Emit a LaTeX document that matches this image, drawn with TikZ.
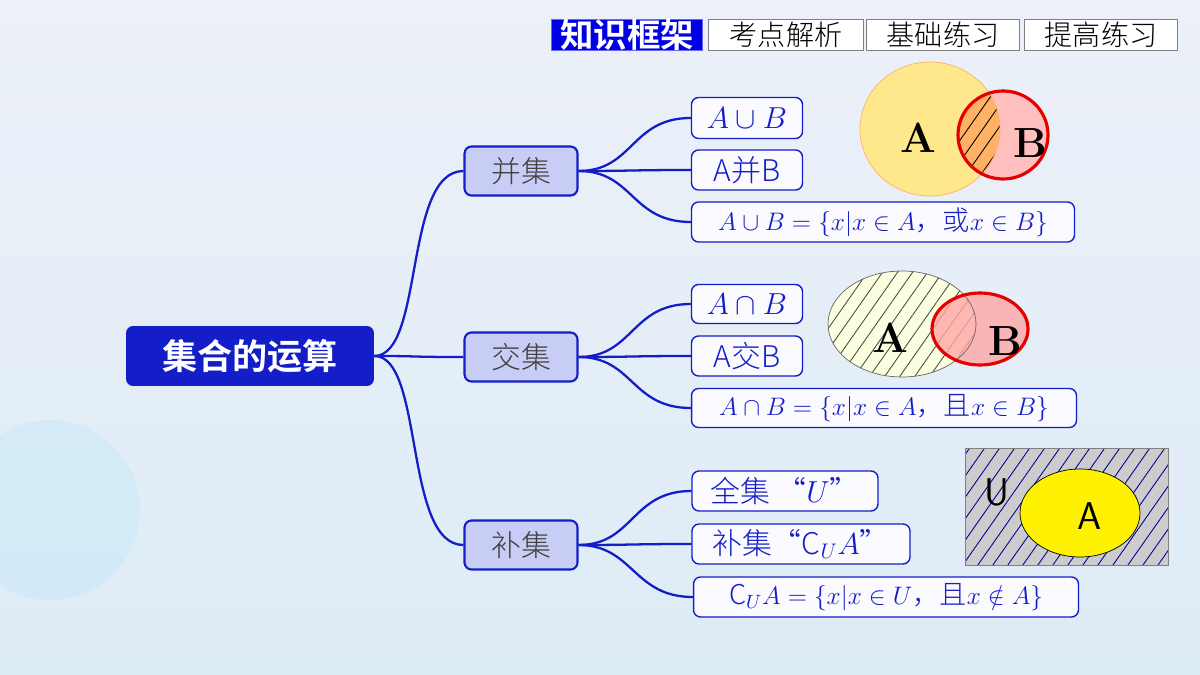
\documentclass[tikz,border=0pt]{standalone}
\usepackage{fontspec}
\newfontfamily\cjk{Noto Sans CJK SC}[UprightFont=* Light]
\usetikzlibrary{patterns.meta,calc}
\definecolor{nb}{RGB}{20,30,200}
\definecolor{nfill}{RGB}{200,205,245}
\definecolor{bgt}{RGB}{236,240,248}
\definecolor{bgb}{RGB}{222,236,246}
\begin{document}
\begin{tikzpicture}[x=0.02cm,y=-0.02cm,
 leaf/.style={draw=nb,rounded corners=4pt,fill=white!60!blue!5,text=nb,font=\cjk\fontsize{17}{17}\selectfont,inner sep=0pt,line width=0.8pt},
 fleaf/.style={leaf,font=\cjk\fontsize{15.5}{15.5}\selectfont},
 mid/.style={draw=nb,rounded corners=4pt,fill=nfill,text=black!75,font=\cjk\fontsize{17}{17}\selectfont,inner sep=0pt,line width=1.2pt},
 tab/.style={draw=gray,fill=white,font=\cjk\fontsize{16}{16}\selectfont,inner sep=0pt},
 con/.style={nb,line width=1.3pt},
 hatch/.style={pattern={Lines[angle=55,distance=7pt,line width=0.5pt]},pattern color=#1}]
\useasboundingbox (0,0) rectangle (1200,675);
\clip (0,0) rectangle (1200,675);
\shade[top color=bgt,bottom color=bgb] (0,0) rectangle (1200,675);
\fill[cyan!30,opacity=0.3] (50,510) circle (90);
% tabs
\node[tab,fill=blue!90!black,draw=blue!60,text=white,font=\cjk\bfseries\fontsize{19}{19}\selectfont,minimum width=3.02cm,minimum height=0.62cm] (t1) at (627,35) {知识框架};
\node[tab,minimum width=3.1cm,minimum height=0.62cm] (t2) at (786,35) {考点解析};
\node[tab,minimum width=3.06cm,minimum height=0.62cm] (t3) at (943,35) {基础练习};
\node[tab,minimum width=3.06cm,minimum height=0.62cm] (t4) at (1101,35) {提高练习};
% root
\node[fill=nb,rounded corners=4pt,text=white,font=\cjk\bfseries\fontsize{20}{20}\selectfont,minimum width=4.96cm,minimum height=1.2cm] (root) at (250,356) {集合的运算};
\node[mid,minimum width=2.26cm,minimum height=0.98cm] (m1) at (521,171) {并集};
\node[mid,minimum width=2.26cm,minimum height=0.98cm] (m2) at (521,357) {交集};
\node[mid,minimum width=2.26cm,minimum height=0.98cm] (m3) at (521,545) {补集};
% leaves
\node[leaf,minimum width=2.22cm,minimum height=0.82cm] (a1) at (747,118) {$A\cup B$};
\node[leaf,minimum width=2.22cm,minimum height=0.80cm] (a2) at (747,170) {A并B};
\node[fleaf,minimum width=7.66cm,minimum height=0.80cm] (a3) at (883,222) {$A\cup B=\{x|x\in A$，或$x\in B\}$};
\node[leaf,minimum width=2.22cm,minimum height=0.78cm] (b1) at (747,304) {$A\cap B$};
\node[leaf,minimum width=2.22cm,minimum height=0.80cm] (b2) at (747,356) {A交B};
\node[fleaf,minimum width=7.7cm,minimum height=0.78cm] (b3) at (884,408) {$A\cap B=\{x|x\in A$，且$x\in B\}$};
\node[leaf,minimum width=3.72cm,minimum height=0.80cm] (c1) at (785,491) {全集\ “$U$”};
\node[leaf,minimum width=4.36cm,minimum height=0.80cm] (c2) at (801,544) {补集“C$_U A$”};
\node[fleaf,minimum width=7.7cm,minimum height=0.80cm] (c3) at (886,597) {C$_U A=\{x|x\in U$，且$x\notin A\}$};
% connectors
\foreach \m in {m1,m2,m3}
  \draw[con] (root.east) .. controls ($(root.east)+(50,0)$) and ($(\m.west)+(-60,0)$) .. (\m.west);
\foreach \m/\l in {m1/a1,m1/a2,m1/a3,m2/b1,m2/b2,m2/b3,m3/c1,m3/c2,m3/c3}
  \draw[con] (\m.east) .. controls ($(\m.east)+(55,0)$) and ($(\l.west)+(-60,0)$) .. (\l.west);
% venn 1
\fill[orange!40!yellow!45] (930,129) ellipse (70 and 67);
\fill[red!25] (1003,135) ellipse (45 and 44);
\begin{scope}
\clip (930,129) ellipse (70 and 67);
\fill[orange!60] (1003,135) ellipse (45 and 44);
\fill[hatch=black] (1003,135) ellipse (45 and 44);
\end{scope}
\draw[orange!60,line width=0.4pt] (930,129) ellipse (70 and 67);
\draw[red!90!black,line width=1.8pt] (1003,135) ellipse (45 and 44);
\node[font=\bfseries\fontsize{24}{24}\selectfont] (vA) at (918,138) {A};
\node[font=\bfseries\fontsize{24}{24}\selectfont] (vB) at (1030,143) {B};
% venn 2
\fill[green!12!yellow!12] (902,324) ellipse (74 and 53);
\fill[hatch=black!70] (902,324) ellipse (74 and 53);
\fill[red!35,opacity=0.8] (980,329) ellipse (48 and 36);
\draw[black!60] (902,324) ellipse (74 and 53);
\draw[red!90!black,line width=1.8pt] (980,329) ellipse (48 and 36);
\node[font=\bfseries\fontsize{24}{24}\selectfont] (wA) at (890,338) {A};
\node[font=\bfseries\fontsize{24}{24}\selectfont] (wB) at (1005,341) {B};
% venn 3
\fill[gray!40] (965,448) rectangle (1168,565);
\fill[hatch=blue!60!black] (965,448) rectangle (1168,565);
\draw[gray] (965,448) rectangle (1168,565);
\filldraw[fill=yellow,draw=black] (1080,513) ellipse (60 and 44);
\node[font=\sffamily\fontsize{22}{22}\selectfont] (U) at (997,492) {U};
\node[font=\sffamily\fontsize{22}{22}\selectfont] (uA) at (1090,516) {A};
\end{tikzpicture}
\end{document}
